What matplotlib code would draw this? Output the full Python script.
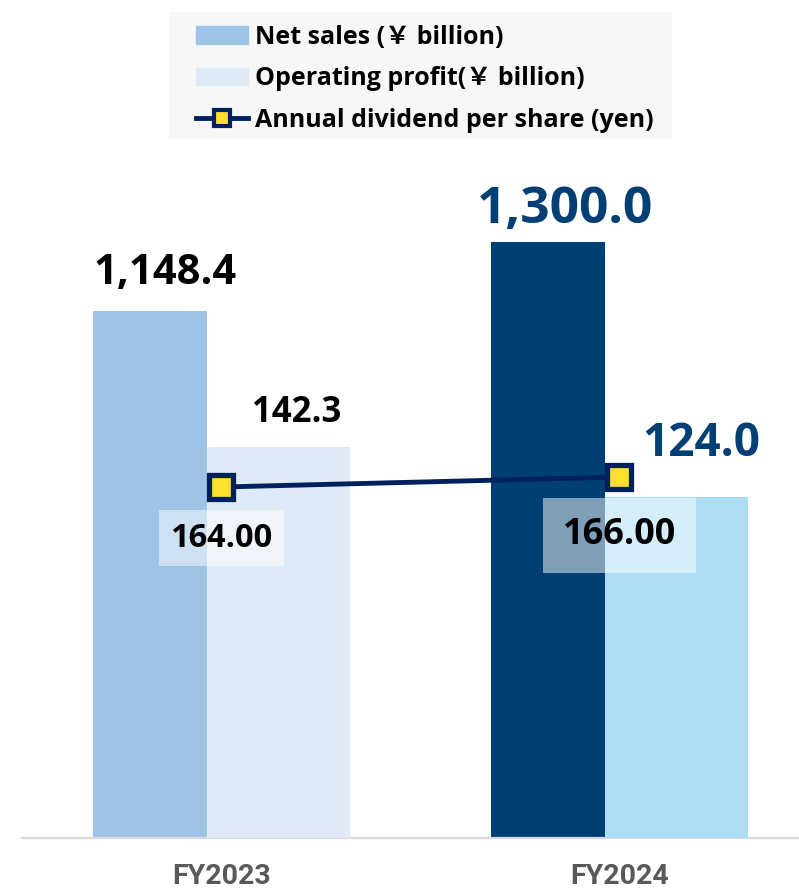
import matplotlib.pyplot as plt
from matplotlib.lines import Line2D
from matplotlib.patches import Patch, Rectangle

# data
years = ['FY2023', 'FY2024']
net_sales = [1148.4, 1300.0]          # ¥ billion
operating_profit = [142.3, 124.0]     # ¥ billion
dividend = [164.00, 166.00]           # yen per share

net_labels = ['1,148.4', '1,300.0']
op_labels = ['142.3', '124.0']
div_labels = ['164.00', '166.00']

# styling
net_colors = ['#9DC3E6', '#003F74']
op_colors = ['#DEEAF6', '#ADDDF5']
label_colors = ['black', '#003F74']
navy = '#002060'
yellow = '#FFE030'
FONT = ['Open Sans', 'Noto Sans CJK JP', 'DejaVu Sans']

fig = plt.figure(figsize=(7.99, 8.92), dpi=100)
ax = fig.add_axes([0.0275, 0.0605, 0.9725, 0.7713])
ax2 = ax.twinx()
ax3 = ax.twinx()

x = list(range(len(years)))
ns_off, ns_w = -0.1796, 0.2864
op_off, op_w = 0.1432, 0.3593

ax.bar([i + ns_off for i in x], net_sales, ns_w, color=net_colors)
ax2.bar([i + op_off for i in x], operating_profit, op_w, color=op_colors)
ax3.plot(x, dividend, color=navy, lw=3.5, marker='s', ms=17, mfc=yellow,
         mec=navy, mew=3.8, solid_joinstyle='round')

ax.set_xlim(-0.5013, 1.451)
ax.set_ylim(0, 1500)
ax2.set_ylim(0, 250.3)
ax3.set_ylim(93.8, 231.4)

# value labels
ns_style = [(10.8, 20, 30), (12, 13.7, 37)]
for i, (v, t, c, (dx, dy, fs)) in enumerate(zip(net_sales, net_labels, label_colors, ns_style)):
    ax.annotate(t, (i + ns_off, v), xytext=(dx, dy), textcoords='offset points',
                ha='center', va='baseline', fontsize=fs, fontweight='bold',
                color=c, family=FONT)

op_style = [(13.3, 18, 25), (17.6, 30, 33)]
for i, (v, t, c, (dx, dy, fs)) in enumerate(zip(operating_profit, op_labels, label_colors, op_style)):
    ax2.annotate(t, (i + op_off, v), xytext=(dx, dy), textcoords='offset points',
                 ha='center', va='baseline', fontsize=fs, fontweight='bold',
                 color=c, family=FONT)

div_style = [(-36.7, 23.5, 0.36), (-41.9, 26, 0.54)]
for i, (v, t, (dy, fs, pad)) in enumerate(zip(dividend, div_labels, div_style)):
    ax3.annotate(t, (i, v), xytext=(0, dy), textcoords='offset points',
                 ha='center', va='center', fontsize=fs, fontweight='bold',
                 color='black', family=FONT,
                 bbox=dict(boxstyle=f'square,pad={pad}', fc='white',
                           ec='none', alpha=0.5))

# axes cosmetics
for a in (ax, ax2, ax3):
    for s in a.spines.values():
        s.set_visible(False)
    a.set_yticks([])
ax.spines['bottom'].set_visible(True)
ax.spines['bottom'].set_color('#D9D9D9')
ax.spines['bottom'].set_linewidth(1.6)
ax.set_xticks(x, labels=years)
ax.tick_params(axis='x', length=0, pad=18, labelsize=20.5, labelcolor='#595959')
for lab in ax.get_xticklabels():
    lab.set_family(['Roboto', 'DejaVu Sans'])
    lab.set_fontweight('bold')

# legend
fig.patches.append(Rectangle((0.2115, 0.8442), 0.6295, 0.1424,
                             transform=fig.transFigure, fc='#F7F7F7',
                             ec='none', zorder=0))
handles = [Patch(color=net_colors[0]),
           Patch(color=op_colors[0]),
           Line2D([], [], color=navy, lw=3.5, marker='s', ms=12, mfc=yellow,
                  mec=navy, mew=3)]
names = ['Net sales (￥ billion)', 'Operating profit(￥ billion)',
         'Annual dividend per share (yen)']
fig.legend(handles, names, loc='upper left', bbox_to_anchor=(0.2453, 0.972),
           frameon=False, borderpad=0, borderaxespad=0, handlelength=2.1,
           handleheight=0.7, handletextpad=0.25, labelspacing=0.66,
           prop=dict(family=FONT, weight='bold', size=18))

fig.savefig('out.png', dpi=100)
